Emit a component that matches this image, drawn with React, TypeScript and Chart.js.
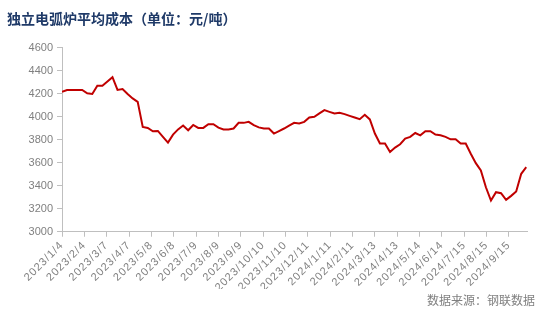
import React, { useEffect, useRef } from 'react';
import { Chart, registerables } from 'chart.js';

Chart.register(...registerables);

const chartTitle = '独立电弧炉平均成本（单位：元/吨）';
const sourceText = '数据来源：钢联数据';

const dates = [
  '2023/1/4', '2023/1/11', '2023/1/18', '2023/1/25', '2023/2/1', '2023/2/8', '2023/2/15', '2023/2/22',
  '2023/3/1', '2023/3/8', '2023/3/15', '2023/3/22', '2023/3/29', '2023/4/5', '2023/4/12', '2023/4/19',
  '2023/4/26', '2023/5/3', '2023/5/10', '2023/5/17', '2023/5/24', '2023/5/31', '2023/6/7', '2023/6/14',
  '2023/6/21', '2023/6/28', '2023/7/5', '2023/7/12', '2023/7/19', '2023/7/26', '2023/8/2', '2023/8/9',
  '2023/8/16', '2023/8/23', '2023/8/30', '2023/9/6', '2023/9/13', '2023/9/20', '2023/9/27', '2023/10/4',
  '2023/10/11', '2023/10/18', '2023/10/25', '2023/11/1', '2023/11/8', '2023/11/15', '2023/11/22', '2023/11/29',
  '2023/12/6', '2023/12/13', '2023/12/20', '2023/12/27',
  '2024/1/3', '2024/1/10', '2024/1/17', '2024/1/24', '2024/1/31', '2024/2/7', '2024/2/14', '2024/2/21',
  '2024/2/28', '2024/3/6', '2024/3/13', '2024/3/20', '2024/3/27', '2024/4/3', '2024/4/10', '2024/4/17',
  '2024/4/24', '2024/5/1', '2024/5/8', '2024/5/15', '2024/5/22', '2024/5/29', '2024/6/5', '2024/6/12',
  '2024/6/19', '2024/6/26', '2024/7/3', '2024/7/10', '2024/7/17', '2024/7/24', '2024/7/31', '2024/8/7',
  '2024/8/14', '2024/8/21', '2024/8/28', '2024/9/4', '2024/9/11', '2024/9/18', '2024/9/25', '2024/10/2',
  '2024/10/9',
];

const costValues = [
  4218, 4233, 4233, 4233, 4233, 4204, 4198, 4270, 4270, 4307,
  4344, 4233, 4241, 4198, 4160, 4130, 3912, 3903, 3874, 3877,
  3826, 3775, 3845, 3890, 3924, 3883, 3929, 3903, 3903, 3935,
  3935, 3905, 3889, 3889, 3898, 3947, 3947, 3956, 3927, 3908,
  3898, 3898, 3854, 3876, 3898, 3922, 3947, 3942, 3956, 3994,
  4000, 4029, 4058, 4043, 4029, 4034, 4023, 4008, 3994, 3979,
  4017, 3977, 3854, 3767, 3767, 3693, 3732, 3761, 3810, 3825,
  3859, 3839, 3874, 3874, 3845, 3839, 3825, 3804, 3804, 3767,
  3767, 3679, 3597, 3533, 3387, 3271, 3344, 3335, 3277, 3312,
  3350, 3504, 3562,
];

const xTickLabels = [
  '2023/1/4', '2023/2/4', '2023/3/7', '2023/4/7', '2023/5/8', '2023/6/8', '2023/7/9',
  '2023/8/9', '2023/9/9', '2023/10/10', '2023/11/10', '2023/12/11', '2024/1/11', '2024/2/11',
  '2024/3/13', '2024/4/13', '2024/5/14', '2024/6/14', '2024/7/15', '2024/8/15', '2024/9/15',
];

const axisStartDate = '2023/1/4';
const axisEndDate = '2024/10/10';
const yMin = 3000;
const yMax = 4600;
const yStep = 200;

function toUTC(s: string): number {
  const [y, m, d] = s.split('/').map(Number);
  return Date.UTC(y, m - 1, d);
}
function dayIndex(s: string): number {
  return Math.round((toUTC(s) - toUTC(axisStartDate)) / 86400000);
}

const sourcePlugin = {
  id: 'sourceText',
  afterDraw(chart: any) {
    const ctx = chart.ctx;
    ctx.save();
    ctx.font = '12px "Noto Sans CJK SC"';
    ctx.fillStyle = '#808080';
    ctx.textAlign = 'right';
    ctx.textBaseline = 'middle';
    ctx.fillText(sourceText, 535, 300);
    ctx.restore();
  },
};

export default function App() {
  const ref = useRef<HTMLCanvasElement | null>(null);

  useEffect(() => {
    document.body.style.margin = '0';
    if (!ref.current) return;
    const axisColor = '#bfbfbf';
    const labelColor = '#808080';
    const chart = new Chart(ref.current, {
      type: 'line',
      data: {
        datasets: [
          {
            label: chartTitle,
            data: dates.map((d, i) => ({ x: dayIndex(d), y: costValues[i] })),
            borderColor: '#C00000',
            borderWidth: 2,
            pointRadius: 0,
            fill: false,
            tension: 0,
          },
        ],
      },
      options: {
        responsive: true,
        maintainAspectRatio: false,
        animation: false,
        layout: { padding: { left: 7, right: 30, top: 0, bottom: 23 } },
        plugins: {
          legend: { display: false },
          tooltip: { enabled: false },
          title: {
            display: true,
            text: chartTitle,
            align: 'start',
            color: '#1F3A68',
            font: { family: '"Noto Sans CJK SC"', size: 14, weight: 'bold' },
            padding: { top: 10, bottom: 21 },
          },
        },
        scales: {
          x: {
            type: 'linear',
            min: 0,
            max: dayIndex(axisEndDate),
            afterBuildTicks: (scale: any) => {
              scale.ticks = xTickLabels.map((l) => ({ value: dayIndex(l) }));
            },
            afterFit: (scale: any) => {
              if (!scale.__spaced) {
                scale.__spaced = true;
                const orig = scale.drawLabels.bind(scale);
                scale.drawLabels = (area: any) => {
                  const c = scale.ctx;
                  c.save();
                  c.letterSpacing = '1px';
                  orig(area);
                  c.restore();
                };
              }
            },
            ticks: {
              autoSkip: false,
              maxRotation: 45,
              minRotation: 45,
              padding: 2,
              color: labelColor,
              font: { family: '"Liberation Sans", Arial', size: 11 },
              callback: (_v: any, i: number) => xTickLabels[i],
            },
            grid: { display: true, drawOnChartArea: false, drawTicks: true, tickLength: 5, color: axisColor },
            border: { display: true, color: axisColor },
          },
          y: {
            min: yMin,
            max: yMax,
            afterFit: (scale: any) => {
              scale.width = 55;
            },
            ticks: {
              stepSize: yStep,
              padding: 4,
              color: labelColor,
              font: { family: '"Liberation Sans", Arial', size: 11 },
              callback: (v: any) => String(v),
            },
            grid: { display: true, drawOnChartArea: false, drawTicks: true, tickLength: 5, color: axisColor },
            border: { display: true, color: axisColor },
          },
        },
      },
      plugins: [sourcePlugin],
    });
    return () => chart.destroy();
  }, []);

  return (
    <div style={{ width: 557, height: 312, position: 'relative' }}>
      <canvas ref={ref} />
    </div>
  );
}
